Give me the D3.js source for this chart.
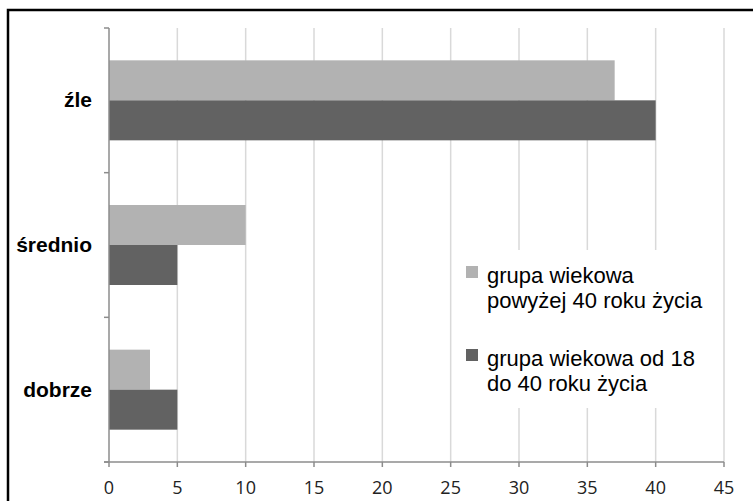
<!DOCTYPE html>
<html>
<head>
<meta charset="utf-8">
<script src="https://cdn.jsdelivr.net/npm/d3@7"></script>
<style>
  body { margin: 0; background: #fff; }
  svg { display: block; }
</style>
</head>
<body>
<svg id="chart"></svg>
<script>
// categories top to bottom
var categories = ["źle", "średnio", "dobrze"];
var seriesNames = [["grupa wiekowa", "powyżej 40 roku życia"], ["grupa wiekowa od 18", "do 40 roku życia"]];
var over40 = [37, 10, 3];
var from18to40 = [40, 5, 5];
var xTicks = [0, 5, 10, 15, 20, 25, 30, 35, 40, 45];
var colors = ["#b2b2b2", "#626262"];

var svgWidth = 753;
var svgHeight = 501;
var margin = { top: 28, left: 109, right: 29, bottom: 39 };
var chartWidth = 724 - margin.left;
var chartHeight = 462 - margin.top;

var svg = d3.select("#chart")
    .attr("width", svgWidth)
    .attr("height", svgHeight);

// frame (only top and left are inside the picture)
svg.append("rect")
    .attr("x", 8).attr("y", 10)
    .attr("width", 760).attr("height", 520)
    .attr("fill", "none")
    .attr("stroke", "#000")
    .attr("stroke-width", 2.5);

var chart = svg.append("g")
    .attr("transform", "translate(" + margin.left + "," + margin.top + ")");

var xScale = d3.scaleLinear().domain([0, 45]).range([0, chartWidth]);
var yScale = d3.scaleBand().domain(categories).range([0, chartHeight]).paddingInner(0).paddingOuter(0);
var inner = d3.scaleBand().domain([0, 1]).range([0, 80]);
var groupOffset = (yScale.bandwidth() - 80) / 2;

// gridlines
chart.selectAll(".grid")
    .data(xTicks.slice(1))
    .enter()
    .append("line")
    .attr("x1", function (d) { return xScale(d); })
    .attr("x2", function (d) { return xScale(d); })
    .attr("y1", 0)
    .attr("y2", chartHeight)
    .style("stroke", "#d9d9d9")
    .style("stroke-width", 1.5);

var series = [over40, from18to40];
series.forEach(function (vals, si) {
    chart.selectAll(".bar" + si)
        .data(categories)
        .enter()
        .append("rect")
        .attr("x", xScale(0))
        .attr("y", function (d) { return yScale(d) + groupOffset + inner(si); })
        .attr("width", function (d, i) { return xScale(vals[i]) - xScale(0); })
        .attr("height", inner.bandwidth())
        .attr("fill", colors[si]);
});

// y axis line + ticks
chart.append("line")
    .attr("x1", 0).attr("x2", 0)
    .attr("y1", 0).attr("y2", chartHeight)
    .style("stroke", "#8c8c8c").style("stroke-width", 1.5);
var yBounds = [0].concat(categories.map(function (d) { return yScale(d) + yScale.bandwidth(); }));
chart.selectAll(".ytick")
    .data(yBounds)
    .enter()
    .append("line")
    .attr("x1", -5).attr("x2", 0)
    .attr("y1", function (d) { return d; })
    .attr("y2", function (d) { return d; })
    .style("stroke", "#8c8c8c").style("stroke-width", 1.5);

// category labels
chart.selectAll(".cat")
    .data(categories)
    .enter()
    .append("text")
    .attr("x", -17)
    .attr("y", function (d) { return yScale(d) + yScale.bandwidth() / 2 + 7; })
    .attr("text-anchor", "end")
    .style("font-family", "Liberation Sans, Arial, sans-serif")
    .style("font-weight", "bold")
    .style("font-size", "21px")
    .style("fill", "#000")
    .text(function (d) { return d; });

// x axis
chart.append("line")
    .attr("x1", -5).attr("x2", chartWidth)
    .attr("y1", chartHeight).attr("y2", chartHeight)
    .style("stroke", "#8c8c8c").style("stroke-width", 1.5);
chart.selectAll(".xtick")
    .data(xTicks)
    .enter()
    .append("line")
    .attr("x1", function (d) { return xScale(d); })
    .attr("x2", function (d) { return xScale(d); })
    .attr("y1", chartHeight).attr("y2", chartHeight + 5)
    .style("stroke", "#8c8c8c").style("stroke-width", 1.5);
chart.selectAll(".xlabel")
    .data(xTicks)
    .enter()
    .append("text")
    .attr("x", function (d) { return xScale(d); })
    .attr("y", chartHeight + 32)
    .attr("text-anchor", "middle")
    .style("font-family", "Open Sans, sans-serif")
    .style("font-size", "18px")
    .style("fill", "#222")
    .text(function (d) { return d; });

// legend
var legend = svg.append("g").attr("transform", "translate(455,250)");
legend.append("rect")
    .attr("width", 262).attr("height", 158)
    .attr("fill", "#fff");
seriesNames.forEach(function (lines, i) {
    var g = legend.append("g").attr("transform", "translate(0," + (i * 83) + ")");
    g.append("rect")
        .attr("x", 11).attr("y", 16)
        .attr("width", 12).attr("height", 12)
        .attr("fill", colors[i]);
    lines.forEach(function (t, j) {
        g.append("text")
            .attr("x", 32)
            .attr("y", 33 + j * 25)
            .style("font-family", "Liberation Sans, Arial, sans-serif")
            .style("font-size", "22px")
            .style("fill", "#000")
            .text(t);
    });
});
</script>
</body>
</html>
